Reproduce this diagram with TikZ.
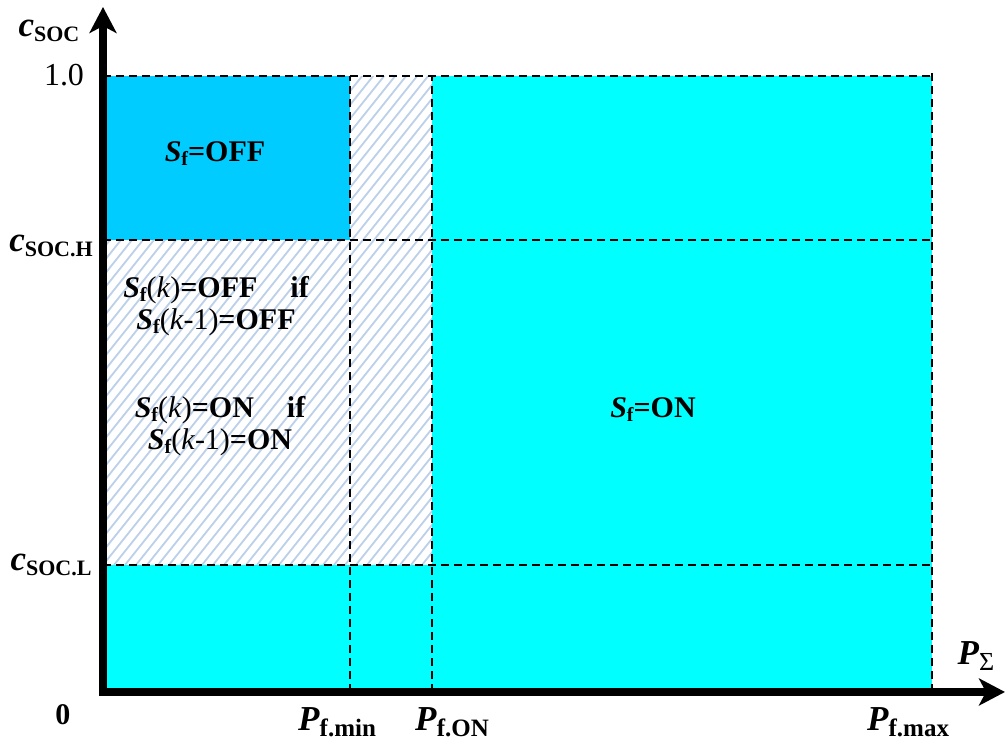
\documentclass[tikz,border=0pt]{standalone}
\usepackage{fontspec}
\setmainfont{Liberation Serif}
\usetikzlibrary{arrows.meta}

\definecolor{offblue}{RGB}{0,204,255}
\definecolor{onaqua}{RGB}{0,255,255}
\definecolor{hatchblue}{RGB}{188,208,234}

% bold italic letters with lowered upright subscripts
\newcommand{\Sf}{\textit{S}\raisebox{-2pt}{\fontsize{10}{10}\selectfont f}}
\newcommand{\kk}[1]{{\mdseries(\textit{k}#1)}}
\newcommand{\csoc}[1]{\textit{c}\raisebox{-2.5pt}{\fontsize{11}{12}\selectfont SOC#1}}
\newcommand{\Pf}[1]{\textit{P}\raisebox{-3pt}{\fontsize{12.5}{13}\selectfont #1}}

\begin{document}
\begin{tikzpicture}[x=0.5pt, y=0.5pt,
    gridline/.style={dash pattern=on 4pt off 2.5pt, line width=1pt},
    axisline/.style={line width=4pt, -{Stealth[length=13pt, width=13.5pt, inset=3.5pt]}},
    hatchline/.style={draw=hatchblue, line width=0.9pt},
    state/.style={font=\fontsize{15}{16}\selectfont\bfseries, align=center},
    ticklabel/.style={font=\fontsize{17.5}{20}\selectfont\bfseries, inner sep=0pt}]
    \def \xmin {247}
    \def \xon {329}
    \def \xmax {829}
    \def \ylow {127}
    \def \yhigh {452}
    \def \ytop {616}
    \useasboundingbox (-103,-55) rectangle (905,692);

    % operating regions
    \fill[onaqua] (0,0) rectangle (\xmax,\ylow);
    \fill[onaqua] (\xon,\ylow) rectangle (\xmax,\ytop);
    \fill[offblue] (0,\yhigh) rectangle (\xmin,\ytop);

    % hysteresis band
    \begin{scope}
      \clip (0,\ylow) -- (\xon,\ylow) -- (\xon,\ytop) -- (\xmin,\ytop)
        -- (\xmin,\yhigh) -- (0,\yhigh) -- cycle;
      \foreach \i in {-40,...,32}
        \draw[hatchline] (\i*11,\ylow) -- ++(400,500);
    \end{scope}

    % thresholds
    \foreach \y in {\ylow,\yhigh,\ytop}
      \draw[gridline] (0,\y) -- (\xmax,\y);
    \foreach \x in {\xmin,\xon}
      \draw[gridline] (\x,0) -- (\x,\ytop);
    \draw[gridline, line width=1.3pt] (\xmax,0) -- (\xmax,620);

    % axes
    \coordinate (O) at (0,0);
    \coordinate (yend) at (0,685);
    \coordinate (xend) at (902,0);
    \draw[axisline] ([yshift=-2pt]O) -- (yend);
    \draw[axisline] ([xshift=-2pt]O) -- (xend);

    % tick labels
    \node[ticklabel] (csoc) at (-54,661) {\csoc{}};
    \node[ticklabel, font=\fontsize{16}{20}\selectfont] (one) at (-39,617) {1.0};
    \node[ticklabel] (csoch) at (-52,446) {\csoc{.H}};
    \node[ticklabel] (csocl) at (-52,127) {\csoc{.L}};
    \node[ticklabel, font=\fontsize{15}{20}\selectfont\bfseries] (zero) at (-40,-23) {0};
    \node[ticklabel] (pmin) at (234,-30) {\Pf{f.min}};
    \node[ticklabel] (pon) at (349,-30) {\Pf{f.ON}};
    \node[ticklabel] (pmax) at (805,-30) {\Pf{f.max}};
    \node[ticklabel] (psum) at (873,36) {\textit{P}\raisebox{-3pt}{\fontsize{13}{13}\selectfont\mdseries Σ}};

    % switching states
    \node[state] (off) at (112,538) {\Sf=OFF};
    \node[state] (holdoff) at (113,386) {\Sf\kk{}=OFF\hspace{1.1em}if\\ \Sf\kk{-1}=OFF};
    \node[state] (holdon) at (117,266) {\Sf\kk{}=ON\hspace{1.1em}if\\ \Sf\kk{-1}=ON};
    \node[state] (on) at (550,282) {\Sf=ON};
\end{tikzpicture}
\end{document}
